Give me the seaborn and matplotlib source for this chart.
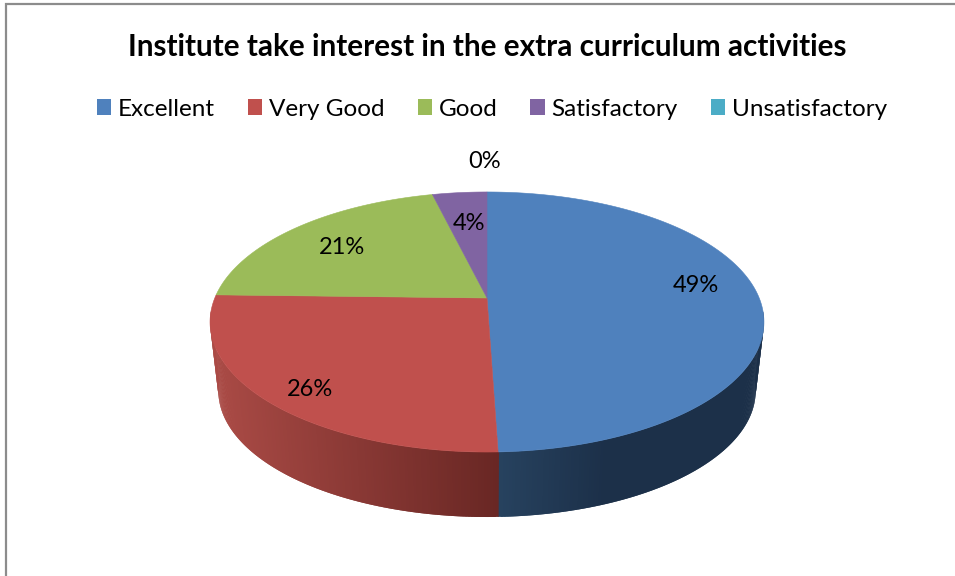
import numpy as np
import matplotlib
matplotlib.use('Agg')
import matplotlib.pyplot as plt
from matplotlib.patches import Patch
import seaborn as sns

# values
labels = ['Excellent', 'Very Good', 'Good', 'Satisfactory', 'Unsatisfactory']
values = [49.47, 25.93, 20.8, 3.8, 0.0]
colors = ['#4F81BD', '#C0504D', '#9BBB59', '#8064A2', '#4BACC6']
title = 'Institute take interest in the extra curriculum activities'

# side wall shades: left end, right end of the visible part
wall_shades = {0: ('#27425F', '#1C3049'), 1: ('#AB4B46', '#692724')}
pct_pos = [(696, 285), (310, 389), (342, 247), (469, 224), (485, 161)]

sns.set_theme(style='white')
plt.rcParams['font.family'] = ['Lato', 'DejaVu Sans']

fig = plt.figure(figsize=(9.55, 5.76), dpi=100)
ax = fig.add_axes([0, 0, 1, 1])

wedges, _, pcts = ax.pie(values, colors=colors, startangle=90, counterclock=False,
                         autopct='%.0f%%', textprops={'fontsize': 17, 'color': 'black'})
angles = [(w.theta1, w.theta2) for w in wedges]
for w in wedges:
    w.remove()

ax.set_aspect('auto')
ax.set_xlim(0, 955)
ax.set_ylim(576, 0)
ax.axis('off')

# tilted disc: circle seen in perspective, apex is not the ellipse centre
k, A, B = 0.1846, 272.2, 125.6


def project(theta, scale=1.0, x0=487.0, y0=298.0):
    t = np.radians(theta)
    u, v = np.cos(t), np.sin(t)
    d = 1 + k * v
    return x0 + scale * A * u / d, y0 - scale * B * v / d


def shade(c1, c2, f):
    a = np.array(matplotlib.colors.to_rgb(c1))
    b = np.array(matplotlib.colors.to_rgb(c2))
    return tuple(a + (b - a) * f)


# side wall first, then the top is painted over it
for i, (t1, t2) in enumerate(angles):
    if i not in wall_shades or t2 <= t1:
        continue
    ts = np.arange(t1, t2 + 0.5, 0.5)
    ts = ts[np.sin(np.radians(ts)) < -0.1]
    if i == 1:
        ts = ts[::-1]  # paint from the seam outwards so strips overlap the right way
    xs = project(ts)[0]
    for a, b in zip(ts[:-1], ts[1:]):
        seg = np.array([a, b + (b - a)])
        if b == ts[-1]:
            seg = np.array([a, b])
        xt, yt = project(seg)
        xb, yb = project(seg, scale=0.97, y0=367.6)
        f = (xt[0] - xs.min()) / (xs.max() - xs.min())
        if i == 0:
            f = min(f * 2.5, 1.0)  # blue wall is dark already a little past the seam
        c = shade(wall_shades[i][0], wall_shades[i][1], f)
        ax.fill(np.r_[xt, xb[::-1]], np.r_[yt, yb[::-1]], color=c, lw=0, zorder=1)

for i, (t1, t2) in enumerate(angles):
    if t2 <= t1:
        continue
    x, y = project(np.linspace(t1, t2, 200))
    ax.fill(np.r_[487, x], np.r_[298, y], color=colors[i], lw=0.4, zorder=2)

for t, p in zip(pcts, pct_pos):
    t.set_position(p)
    t.set_ha('center')
    t.set_va('center')
    t.set_zorder(5)

# frame of the chart, cut off at right and bottom
ax.plot([6, 6, 955], [576, 4, 4], color='#8C8C8C', lw=1.6, zorder=6, solid_joinstyle='miter')

ax.text(487, 47, title, ha='center', va='center', fontsize=21.4, fontweight='bold', color='black')

handles = [Patch(facecolor=c, edgecolor='none') for c in colors]
ax.legend(handles, labels, ncol=5, loc='center', bbox_to_anchor=(492 / 955, 1 - 109 / 576),
          frameon=False, fontsize=17.5, handlelength=0.58, handleheight=0.62,
          handletextpad=0.28, columnspacing=1.36, borderpad=0, labelcolor='black')

fig.savefig('out.png', dpi=100, facecolor='white')
